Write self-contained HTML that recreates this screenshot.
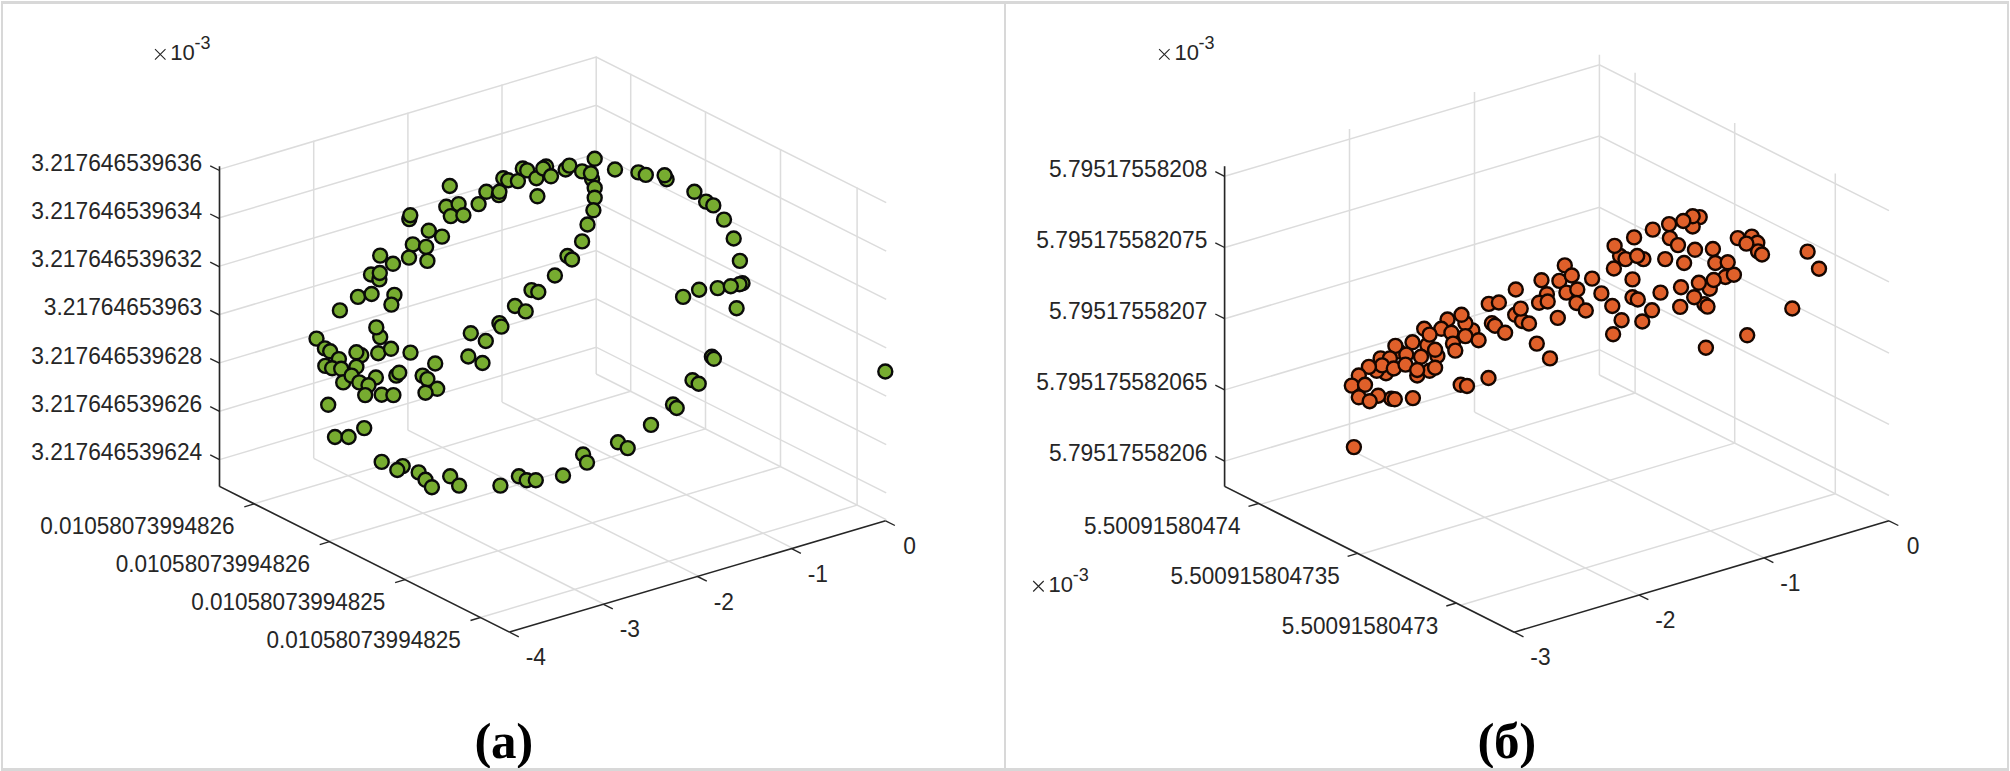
<!DOCTYPE html>
<html><head><meta charset="utf-8"><style>
html,body{margin:0;padding:0;background:#fff;}
body{width:2010px;height:771px;overflow:hidden;position:relative;}
svg{position:absolute;left:0;top:0;}
text{font-family:"Liberation Sans",sans-serif;fill:#262626;}
.cap{font-family:"Liberation Serif",serif;font-weight:bold;fill:#000;}
</style></head><body>
<svg width="2010" height="771" viewBox="0 0 2010 771">
<rect x="0" y="0" width="2010" height="771" fill="#fff"/>
<polyline points="219.5,169.4 596.2,57.0 886.2,202.7" fill="none" stroke="#dcdcdc" stroke-width="1.5"/>
<polyline points="219.5,217.8 596.2,105.4 886.2,251.1" fill="none" stroke="#dcdcdc" stroke-width="1.5"/>
<polyline points="219.5,266.1 596.2,153.7 886.2,299.4" fill="none" stroke="#dcdcdc" stroke-width="1.5"/>
<polyline points="219.5,314.5 596.2,202.1 886.2,347.8" fill="none" stroke="#dcdcdc" stroke-width="1.5"/>
<polyline points="219.5,362.9 596.2,250.5 886.2,396.2" fill="none" stroke="#dcdcdc" stroke-width="1.5"/>
<polyline points="219.5,411.2 596.2,298.9 886.2,444.6" fill="none" stroke="#dcdcdc" stroke-width="1.5"/>
<polyline points="219.5,459.6 596.2,347.2 886.2,492.9" fill="none" stroke="#dcdcdc" stroke-width="1.5"/>
<line x1="219.5" y1="486.4" x2="219.5" y2="168.9" stroke="#dcdcdc" stroke-width="1.5"/>
<line x1="219.5" y1="486.4" x2="509.5" y2="632.1" stroke="#dcdcdc" stroke-width="1.5"/>
<line x1="313.7" y1="458.3" x2="313.7" y2="140.8" stroke="#dcdcdc" stroke-width="1.5"/>
<line x1="313.7" y1="458.3" x2="603.7" y2="604.0" stroke="#dcdcdc" stroke-width="1.5"/>
<line x1="407.9" y1="430.2" x2="407.9" y2="112.7" stroke="#dcdcdc" stroke-width="1.5"/>
<line x1="407.9" y1="430.2" x2="697.9" y2="575.9" stroke="#dcdcdc" stroke-width="1.5"/>
<line x1="502.0" y1="402.1" x2="502.0" y2="84.6" stroke="#dcdcdc" stroke-width="1.5"/>
<line x1="502.0" y1="402.1" x2="792.0" y2="547.8" stroke="#dcdcdc" stroke-width="1.5"/>
<line x1="596.2" y1="374.0" x2="596.2" y2="56.5" stroke="#dcdcdc" stroke-width="1.5"/>
<line x1="596.2" y1="374.0" x2="886.2" y2="519.7" stroke="#dcdcdc" stroke-width="1.5"/>
<line x1="254.0" y1="503.7" x2="630.7" y2="391.3" stroke="#dcdcdc" stroke-width="1.5"/>
<line x1="630.7" y1="391.3" x2="630.7" y2="73.8" stroke="#dcdcdc" stroke-width="1.5"/>
<line x1="328.8" y1="541.3" x2="705.5" y2="428.9" stroke="#dcdcdc" stroke-width="1.5"/>
<line x1="705.5" y1="428.9" x2="705.5" y2="111.4" stroke="#dcdcdc" stroke-width="1.5"/>
<line x1="403.8" y1="579.0" x2="780.5" y2="466.6" stroke="#dcdcdc" stroke-width="1.5"/>
<line x1="780.5" y1="466.6" x2="780.5" y2="149.1" stroke="#dcdcdc" stroke-width="1.5"/>
<line x1="480.4" y1="617.5" x2="857.1" y2="505.1" stroke="#dcdcdc" stroke-width="1.5"/>
<line x1="857.1" y1="505.1" x2="857.1" y2="187.6" stroke="#dcdcdc" stroke-width="1.5"/>
<line x1="219.5" y1="166.2" x2="219.5" y2="486.4" stroke="#262626" stroke-width="1.6"/>
<line x1="219.5" y1="486.4" x2="509.5" y2="632.1" stroke="#262626" stroke-width="1.6"/>
<line x1="509.5" y1="632.1" x2="885.6" y2="520.8" stroke="#262626" stroke-width="1.6"/>
<line x1="219.5" y1="170.5" x2="210.2" y2="165.8" stroke="#262626" stroke-width="1.4"/>
<text transform="translate(202.3,170.8) scale(1,1.065)" text-anchor="end" font-size="22.8">3.217646539636</text>
<line x1="219.5" y1="218.7" x2="210.2" y2="214.0" stroke="#262626" stroke-width="1.4"/>
<text transform="translate(202.3,219.0) scale(1,1.065)" text-anchor="end" font-size="22.8">3.217646539634</text>
<line x1="219.5" y1="266.9" x2="210.2" y2="262.2" stroke="#262626" stroke-width="1.4"/>
<text transform="translate(202.3,267.2) scale(1,1.065)" text-anchor="end" font-size="22.8">3.217646539632</text>
<line x1="219.5" y1="315.0" x2="210.2" y2="310.4" stroke="#262626" stroke-width="1.4"/>
<text transform="translate(202.3,315.3) scale(1,1.065)" text-anchor="end" font-size="22.8">3.21764653963</text>
<line x1="219.5" y1="363.2" x2="210.2" y2="358.6" stroke="#262626" stroke-width="1.4"/>
<text transform="translate(202.3,363.5) scale(1,1.065)" text-anchor="end" font-size="22.8">3.217646539628</text>
<line x1="219.5" y1="411.4" x2="210.2" y2="406.7" stroke="#262626" stroke-width="1.4"/>
<text transform="translate(202.3,411.7) scale(1,1.065)" text-anchor="end" font-size="22.8">3.217646539626</text>
<line x1="219.5" y1="459.6" x2="210.2" y2="454.9" stroke="#262626" stroke-width="1.4"/>
<text transform="translate(202.3,459.9) scale(1,1.065)" text-anchor="end" font-size="22.8">3.217646539624</text>
<line x1="254.2" y1="503.9" x2="244.3" y2="506.8" stroke="#262626" stroke-width="1.4"/>
<text transform="translate(234.6,533.8) scale(1,1.065)" text-anchor="end" font-size="22.55">0.01058073994826</text>
<line x1="329.6" y1="541.7" x2="319.7" y2="544.7" stroke="#262626" stroke-width="1.4"/>
<text transform="translate(310.0,571.7) scale(1,1.065)" text-anchor="end" font-size="22.55">0.01058073994826</text>
<line x1="405.0" y1="579.6" x2="395.1" y2="582.6" stroke="#262626" stroke-width="1.4"/>
<text transform="translate(385.4,609.6) scale(1,1.065)" text-anchor="end" font-size="22.55">0.01058073994825</text>
<line x1="480.4" y1="617.5" x2="470.5" y2="620.5" stroke="#262626" stroke-width="1.4"/>
<text transform="translate(460.8,647.5) scale(1,1.065)" text-anchor="end" font-size="22.55">0.01058073994825</text>
<line x1="509.5" y1="632.1" x2="518.8" y2="636.8" stroke="#262626" stroke-width="1.4"/>
<text transform="translate(535.8,665.2) scale(1,1.065)" text-anchor="middle" font-size="22.8">-4</text>
<line x1="603.5" y1="604.3" x2="612.8" y2="608.9" stroke="#262626" stroke-width="1.4"/>
<text transform="translate(629.8,637.3) scale(1,1.065)" text-anchor="middle" font-size="22.8">-3</text>
<line x1="697.5" y1="576.5" x2="706.8" y2="581.1" stroke="#262626" stroke-width="1.4"/>
<text transform="translate(723.8,609.5) scale(1,1.065)" text-anchor="middle" font-size="22.8">-2</text>
<line x1="791.6" y1="548.6" x2="800.9" y2="553.3" stroke="#262626" stroke-width="1.4"/>
<text transform="translate(817.9,581.7) scale(1,1.065)" text-anchor="middle" font-size="22.8">-1</text>
<line x1="885.6" y1="520.8" x2="894.9" y2="525.5" stroke="#262626" stroke-width="1.4"/>
<text transform="translate(909.6,553.9) scale(1,1.065)" text-anchor="middle" font-size="22.8">0</text>
<polyline points="1224.6,176.3 1599.4,64.9 1889.0,210.7" fill="none" stroke="#dcdcdc" stroke-width="1.5"/>
<polyline points="1224.6,247.5 1599.4,136.1 1889.0,281.9" fill="none" stroke="#dcdcdc" stroke-width="1.5"/>
<polyline points="1224.6,318.7 1599.4,207.3 1889.0,353.1" fill="none" stroke="#dcdcdc" stroke-width="1.5"/>
<polyline points="1224.6,389.9 1599.4,278.5 1889.0,424.3" fill="none" stroke="#dcdcdc" stroke-width="1.5"/>
<polyline points="1224.6,461.1 1599.4,349.7 1889.0,495.5" fill="none" stroke="#dcdcdc" stroke-width="1.5"/>
<line x1="1224.6" y1="486.4" x2="1224.6" y2="166.2" stroke="#dcdcdc" stroke-width="1.5"/>
<line x1="1224.6" y1="486.4" x2="1514.2" y2="632.2" stroke="#dcdcdc" stroke-width="1.5"/>
<line x1="1349.5" y1="449.3" x2="1349.5" y2="129.1" stroke="#dcdcdc" stroke-width="1.5"/>
<line x1="1349.5" y1="449.3" x2="1639.1" y2="595.1" stroke="#dcdcdc" stroke-width="1.5"/>
<line x1="1474.5" y1="412.1" x2="1474.5" y2="91.9" stroke="#dcdcdc" stroke-width="1.5"/>
<line x1="1474.5" y1="412.1" x2="1764.1" y2="557.9" stroke="#dcdcdc" stroke-width="1.5"/>
<line x1="1599.4" y1="375.0" x2="1599.4" y2="54.8" stroke="#dcdcdc" stroke-width="1.5"/>
<line x1="1599.4" y1="375.0" x2="1889.0" y2="520.8" stroke="#dcdcdc" stroke-width="1.5"/>
<line x1="1260.3" y1="504.4" x2="1635.1" y2="393.0" stroke="#dcdcdc" stroke-width="1.5"/>
<line x1="1635.1" y1="393.0" x2="1635.1" y2="72.8" stroke="#dcdcdc" stroke-width="1.5"/>
<line x1="1359.9" y1="554.5" x2="1734.7" y2="443.1" stroke="#dcdcdc" stroke-width="1.5"/>
<line x1="1734.7" y1="443.1" x2="1734.7" y2="122.9" stroke="#dcdcdc" stroke-width="1.5"/>
<line x1="1460.5" y1="605.2" x2="1835.3" y2="493.8" stroke="#dcdcdc" stroke-width="1.5"/>
<line x1="1835.3" y1="493.8" x2="1835.3" y2="173.6" stroke="#dcdcdc" stroke-width="1.5"/>
<line x1="1224.6" y1="166.2" x2="1224.6" y2="486.4" stroke="#262626" stroke-width="1.6"/>
<line x1="1224.6" y1="486.4" x2="1514.2" y2="632.2" stroke="#262626" stroke-width="1.6"/>
<line x1="1514.2" y1="632.2" x2="1889.0" y2="520.8" stroke="#262626" stroke-width="1.6"/>
<line x1="1224.6" y1="176.3" x2="1215.3" y2="171.6" stroke="#262626" stroke-width="1.4"/>
<text transform="translate(1207.4,176.6) scale(1,1.065)" text-anchor="end" font-size="22.8">5.79517558208</text>
<line x1="1224.6" y1="247.5" x2="1215.3" y2="242.8" stroke="#262626" stroke-width="1.4"/>
<text transform="translate(1207.4,247.8) scale(1,1.065)" text-anchor="end" font-size="22.8">5.795175582075</text>
<line x1="1224.6" y1="318.7" x2="1215.3" y2="314.0" stroke="#262626" stroke-width="1.4"/>
<text transform="translate(1207.4,319.0) scale(1,1.065)" text-anchor="end" font-size="22.8">5.79517558207</text>
<line x1="1224.6" y1="389.9" x2="1215.3" y2="385.2" stroke="#262626" stroke-width="1.4"/>
<text transform="translate(1207.4,390.2) scale(1,1.065)" text-anchor="end" font-size="22.8">5.795175582065</text>
<line x1="1224.6" y1="461.1" x2="1215.3" y2="456.4" stroke="#262626" stroke-width="1.4"/>
<text transform="translate(1207.4,461.4) scale(1,1.065)" text-anchor="end" font-size="22.8">5.79517558206</text>
<line x1="1258.5" y1="503.5" x2="1248.5" y2="506.4" stroke="#262626" stroke-width="1.4"/>
<text transform="translate(1240.6,534.3) scale(1,1.065)" text-anchor="end" font-size="22.55">5.50091580474</text>
<line x1="1357.5" y1="553.3" x2="1347.6" y2="556.3" stroke="#262626" stroke-width="1.4"/>
<text transform="translate(1339.7,584.2) scale(1,1.065)" text-anchor="end" font-size="22.55">5.500915804735</text>
<line x1="1456.3" y1="603.0" x2="1446.3" y2="606.0" stroke="#262626" stroke-width="1.4"/>
<text transform="translate(1438.4,633.9) scale(1,1.065)" text-anchor="end" font-size="22.55">5.50091580473</text>
<line x1="1514.2" y1="632.2" x2="1523.5" y2="636.9" stroke="#262626" stroke-width="1.4"/>
<text transform="translate(1540.5,665.3) scale(1,1.065)" text-anchor="middle" font-size="22.8">-3</text>
<line x1="1639.1" y1="595.1" x2="1648.4" y2="599.7" stroke="#262626" stroke-width="1.4"/>
<text transform="translate(1665.4,628.1) scale(1,1.065)" text-anchor="middle" font-size="22.8">-2</text>
<line x1="1764.1" y1="557.9" x2="1773.4" y2="562.6" stroke="#262626" stroke-width="1.4"/>
<text transform="translate(1790.4,591.0) scale(1,1.065)" text-anchor="middle" font-size="22.8">-1</text>
<line x1="1889.0" y1="520.8" x2="1898.3" y2="525.5" stroke="#262626" stroke-width="1.4"/>
<text transform="translate(1913.0,553.9) scale(1,1.065)" text-anchor="middle" font-size="22.8">0</text>
<g><path d="M155.0,49.2 l10.5,10.5 M165.5,49.2 l-10.5,10.5" stroke="#262626" stroke-width="1.1" fill="none"/><text x="170.3" y="59.7" font-size="22">10</text><text x="194.5" y="48.7" font-size="18">-3</text></g>
<g><path d="M1159.1,49.2 l10.5,10.5 M1169.6,49.2 l-10.5,10.5" stroke="#262626" stroke-width="1.1" fill="none"/><text x="1174.4" y="59.7" font-size="22">10</text><text x="1198.6" y="48.7" font-size="18">-3</text></g>
<g><path d="M1033.2,581.0 l10.5,10.5 M1043.7,581.0 l-10.5,10.5" stroke="#262626" stroke-width="1.1" fill="none"/><text x="1048.5" y="591.5" font-size="22">10</text><text x="1072.7" y="580.5" font-size="18">-3</text></g>
<circle cx="449.8" cy="186.0" r="7.0" fill="#77ac30" stroke="#0a0a0a" stroke-width="2.4"/><circle cx="446.3" cy="206.8" r="7.0" fill="#77ac30" stroke="#0a0a0a" stroke-width="2.4"/><circle cx="458.6" cy="204.1" r="7.0" fill="#77ac30" stroke="#0a0a0a" stroke-width="2.4"/><circle cx="450.8" cy="216.1" r="7.0" fill="#77ac30" stroke="#0a0a0a" stroke-width="2.4"/><circle cx="463.4" cy="215.2" r="7.0" fill="#77ac30" stroke="#0a0a0a" stroke-width="2.4"/><circle cx="478.6" cy="204.1" r="7.0" fill="#77ac30" stroke="#0a0a0a" stroke-width="2.4"/><circle cx="486.4" cy="191.8" r="7.0" fill="#77ac30" stroke="#0a0a0a" stroke-width="2.4"/><circle cx="498.8" cy="195.1" r="7.0" fill="#77ac30" stroke="#0a0a0a" stroke-width="2.4"/><circle cx="499.4" cy="191.8" r="7.0" fill="#77ac30" stroke="#0a0a0a" stroke-width="2.4"/><circle cx="503.3" cy="178.2" r="7.0" fill="#77ac30" stroke="#0a0a0a" stroke-width="2.4"/><circle cx="508.2" cy="180.2" r="7.0" fill="#77ac30" stroke="#0a0a0a" stroke-width="2.4"/><circle cx="517.9" cy="181.1" r="7.0" fill="#77ac30" stroke="#0a0a0a" stroke-width="2.4"/><circle cx="522.8" cy="168.5" r="7.0" fill="#77ac30" stroke="#0a0a0a" stroke-width="2.4"/><circle cx="527.2" cy="170.4" r="7.0" fill="#77ac30" stroke="#0a0a0a" stroke-width="2.4"/><circle cx="536.4" cy="178.2" r="7.0" fill="#77ac30" stroke="#0a0a0a" stroke-width="2.4"/><circle cx="546.1" cy="166.5" r="7.0" fill="#77ac30" stroke="#0a0a0a" stroke-width="2.4"/><circle cx="543.2" cy="168.5" r="7.0" fill="#77ac30" stroke="#0a0a0a" stroke-width="2.4"/><circle cx="551.0" cy="176.3" r="7.0" fill="#77ac30" stroke="#0a0a0a" stroke-width="2.4"/><circle cx="537.4" cy="196.3" r="7.0" fill="#77ac30" stroke="#0a0a0a" stroke-width="2.4"/><circle cx="565.6" cy="169.5" r="7.0" fill="#77ac30" stroke="#0a0a0a" stroke-width="2.4"/><circle cx="569.4" cy="165.6" r="7.0" fill="#77ac30" stroke="#0a0a0a" stroke-width="2.4"/><circle cx="582.1" cy="171.4" r="7.0" fill="#77ac30" stroke="#0a0a0a" stroke-width="2.4"/><circle cx="592.1" cy="179.2" r="7.0" fill="#77ac30" stroke="#0a0a0a" stroke-width="2.4"/><circle cx="594.7" cy="158.8" r="7.0" fill="#77ac30" stroke="#0a0a0a" stroke-width="2.4"/><circle cx="594.7" cy="187.9" r="7.0" fill="#77ac30" stroke="#0a0a0a" stroke-width="2.4"/><circle cx="594.7" cy="197.7" r="7.0" fill="#77ac30" stroke="#0a0a0a" stroke-width="2.4"/><circle cx="593.4" cy="210.3" r="7.0" fill="#77ac30" stroke="#0a0a0a" stroke-width="2.4"/><circle cx="587.5" cy="224.5" r="7.0" fill="#77ac30" stroke="#0a0a0a" stroke-width="2.4"/><circle cx="582.1" cy="241.4" r="7.0" fill="#77ac30" stroke="#0a0a0a" stroke-width="2.4"/><circle cx="567.5" cy="256.0" r="7.0" fill="#77ac30" stroke="#0a0a0a" stroke-width="2.4"/><circle cx="572.0" cy="259.5" r="7.0" fill="#77ac30" stroke="#0a0a0a" stroke-width="2.4"/><circle cx="554.9" cy="275.5" r="7.0" fill="#77ac30" stroke="#0a0a0a" stroke-width="2.4"/><circle cx="531.5" cy="290.1" r="7.0" fill="#77ac30" stroke="#0a0a0a" stroke-width="2.4"/><circle cx="538.3" cy="292.0" r="7.0" fill="#77ac30" stroke="#0a0a0a" stroke-width="2.4"/><circle cx="409.3" cy="219.1" r="7.0" fill="#77ac30" stroke="#0a0a0a" stroke-width="2.4"/><circle cx="410.3" cy="215.2" r="7.0" fill="#77ac30" stroke="#0a0a0a" stroke-width="2.4"/><circle cx="428.8" cy="230.7" r="7.0" fill="#77ac30" stroke="#0a0a0a" stroke-width="2.4"/><circle cx="442.0" cy="236.6" r="7.0" fill="#77ac30" stroke="#0a0a0a" stroke-width="2.4"/><circle cx="412.8" cy="244.4" r="7.0" fill="#77ac30" stroke="#0a0a0a" stroke-width="2.4"/><circle cx="426.1" cy="246.9" r="7.0" fill="#77ac30" stroke="#0a0a0a" stroke-width="2.4"/><circle cx="409.0" cy="257.6" r="7.0" fill="#77ac30" stroke="#0a0a0a" stroke-width="2.4"/><circle cx="427.4" cy="260.9" r="7.0" fill="#77ac30" stroke="#0a0a0a" stroke-width="2.4"/><circle cx="380.2" cy="255.6" r="7.0" fill="#77ac30" stroke="#0a0a0a" stroke-width="2.4"/><circle cx="393.0" cy="263.8" r="7.0" fill="#77ac30" stroke="#0a0a0a" stroke-width="2.4"/><circle cx="371.0" cy="274.5" r="7.0" fill="#77ac30" stroke="#0a0a0a" stroke-width="2.4"/><circle cx="379.4" cy="279.4" r="7.0" fill="#77ac30" stroke="#0a0a0a" stroke-width="2.4"/><circle cx="379.8" cy="273.0" r="7.0" fill="#77ac30" stroke="#0a0a0a" stroke-width="2.4"/><circle cx="358.0" cy="296.9" r="7.0" fill="#77ac30" stroke="#0a0a0a" stroke-width="2.4"/><circle cx="371.6" cy="294.0" r="7.0" fill="#77ac30" stroke="#0a0a0a" stroke-width="2.4"/><circle cx="394.4" cy="294.9" r="7.0" fill="#77ac30" stroke="#0a0a0a" stroke-width="2.4"/><circle cx="590.9" cy="173.3" r="7.0" fill="#77ac30" stroke="#0a0a0a" stroke-width="2.4"/><circle cx="615.0" cy="169.5" r="7.0" fill="#77ac30" stroke="#0a0a0a" stroke-width="2.4"/><circle cx="638.4" cy="172.4" r="7.0" fill="#77ac30" stroke="#0a0a0a" stroke-width="2.4"/><circle cx="645.8" cy="174.9" r="7.0" fill="#77ac30" stroke="#0a0a0a" stroke-width="2.4"/><circle cx="666.6" cy="179.2" r="7.0" fill="#77ac30" stroke="#0a0a0a" stroke-width="2.4"/><circle cx="664.6" cy="175.3" r="7.0" fill="#77ac30" stroke="#0a0a0a" stroke-width="2.4"/><circle cx="694.4" cy="191.8" r="7.0" fill="#77ac30" stroke="#0a0a0a" stroke-width="2.4"/><circle cx="706.1" cy="201.6" r="7.0" fill="#77ac30" stroke="#0a0a0a" stroke-width="2.4"/><circle cx="713.3" cy="205.4" r="7.0" fill="#77ac30" stroke="#0a0a0a" stroke-width="2.4"/><circle cx="724.0" cy="219.6" r="7.0" fill="#77ac30" stroke="#0a0a0a" stroke-width="2.4"/><circle cx="733.7" cy="238.5" r="7.0" fill="#77ac30" stroke="#0a0a0a" stroke-width="2.4"/><circle cx="739.9" cy="260.9" r="7.0" fill="#77ac30" stroke="#0a0a0a" stroke-width="2.4"/><circle cx="699.1" cy="289.7" r="7.0" fill="#77ac30" stroke="#0a0a0a" stroke-width="2.4"/><circle cx="717.7" cy="288.1" r="7.0" fill="#77ac30" stroke="#0a0a0a" stroke-width="2.4"/><circle cx="742.5" cy="283.3" r="7.0" fill="#77ac30" stroke="#0a0a0a" stroke-width="2.4"/><circle cx="739.5" cy="284.2" r="7.0" fill="#77ac30" stroke="#0a0a0a" stroke-width="2.4"/><circle cx="730.8" cy="286.2" r="7.0" fill="#77ac30" stroke="#0a0a0a" stroke-width="2.4"/><circle cx="683.1" cy="296.9" r="7.0" fill="#77ac30" stroke="#0a0a0a" stroke-width="2.4"/><circle cx="391.4" cy="304.6" r="7.0" fill="#77ac30" stroke="#0a0a0a" stroke-width="2.4"/><circle cx="339.9" cy="310.4" r="7.0" fill="#77ac30" stroke="#0a0a0a" stroke-width="2.4"/><circle cx="380.2" cy="337.1" r="7.0" fill="#77ac30" stroke="#0a0a0a" stroke-width="2.4"/><circle cx="376.3" cy="327.4" r="7.0" fill="#77ac30" stroke="#0a0a0a" stroke-width="2.4"/><circle cx="316.5" cy="338.6" r="7.0" fill="#77ac30" stroke="#0a0a0a" stroke-width="2.4"/><circle cx="324.9" cy="348.4" r="7.0" fill="#77ac30" stroke="#0a0a0a" stroke-width="2.4"/><circle cx="330.2" cy="351.3" r="7.0" fill="#77ac30" stroke="#0a0a0a" stroke-width="2.4"/><circle cx="338.9" cy="359.1" r="7.0" fill="#77ac30" stroke="#0a0a0a" stroke-width="2.4"/><circle cx="361.3" cy="355.2" r="7.0" fill="#77ac30" stroke="#0a0a0a" stroke-width="2.4"/><circle cx="356.4" cy="352.3" r="7.0" fill="#77ac30" stroke="#0a0a0a" stroke-width="2.4"/><circle cx="378.2" cy="353.2" r="7.0" fill="#77ac30" stroke="#0a0a0a" stroke-width="2.4"/><circle cx="391.0" cy="348.8" r="7.0" fill="#77ac30" stroke="#0a0a0a" stroke-width="2.4"/><circle cx="410.5" cy="352.6" r="7.0" fill="#77ac30" stroke="#0a0a0a" stroke-width="2.4"/><circle cx="435.2" cy="363.5" r="7.0" fill="#77ac30" stroke="#0a0a0a" stroke-width="2.4"/><circle cx="470.8" cy="333.2" r="7.0" fill="#77ac30" stroke="#0a0a0a" stroke-width="2.4"/><circle cx="485.8" cy="341.0" r="7.0" fill="#77ac30" stroke="#0a0a0a" stroke-width="2.4"/><circle cx="499.4" cy="323.1" r="7.0" fill="#77ac30" stroke="#0a0a0a" stroke-width="2.4"/><circle cx="501.4" cy="326.6" r="7.0" fill="#77ac30" stroke="#0a0a0a" stroke-width="2.4"/><circle cx="515.0" cy="306.0" r="7.0" fill="#77ac30" stroke="#0a0a0a" stroke-width="2.4"/><circle cx="525.7" cy="311.4" r="7.0" fill="#77ac30" stroke="#0a0a0a" stroke-width="2.4"/><circle cx="468.3" cy="356.5" r="7.0" fill="#77ac30" stroke="#0a0a0a" stroke-width="2.4"/><circle cx="482.5" cy="363.0" r="7.0" fill="#77ac30" stroke="#0a0a0a" stroke-width="2.4"/><circle cx="325.3" cy="365.9" r="7.0" fill="#77ac30" stroke="#0a0a0a" stroke-width="2.4"/><circle cx="332.1" cy="368.2" r="7.0" fill="#77ac30" stroke="#0a0a0a" stroke-width="2.4"/><circle cx="341.2" cy="368.8" r="7.0" fill="#77ac30" stroke="#0a0a0a" stroke-width="2.4"/><circle cx="356.4" cy="366.8" r="7.0" fill="#77ac30" stroke="#0a0a0a" stroke-width="2.4"/><circle cx="375.9" cy="377.5" r="7.0" fill="#77ac30" stroke="#0a0a0a" stroke-width="2.4"/><circle cx="396.3" cy="375.6" r="7.0" fill="#77ac30" stroke="#0a0a0a" stroke-width="2.4"/><circle cx="399.2" cy="372.7" r="7.0" fill="#77ac30" stroke="#0a0a0a" stroke-width="2.4"/><circle cx="422.6" cy="375.6" r="7.0" fill="#77ac30" stroke="#0a0a0a" stroke-width="2.4"/><circle cx="427.4" cy="379.1" r="7.0" fill="#77ac30" stroke="#0a0a0a" stroke-width="2.4"/><circle cx="437.2" cy="388.8" r="7.0" fill="#77ac30" stroke="#0a0a0a" stroke-width="2.4"/><circle cx="425.5" cy="392.7" r="7.0" fill="#77ac30" stroke="#0a0a0a" stroke-width="2.4"/><circle cx="343.2" cy="382.4" r="7.0" fill="#77ac30" stroke="#0a0a0a" stroke-width="2.4"/><circle cx="351.6" cy="375.6" r="7.0" fill="#77ac30" stroke="#0a0a0a" stroke-width="2.4"/><circle cx="359.3" cy="382.4" r="7.0" fill="#77ac30" stroke="#0a0a0a" stroke-width="2.4"/><circle cx="368.5" cy="385.3" r="7.0" fill="#77ac30" stroke="#0a0a0a" stroke-width="2.4"/><circle cx="365.2" cy="395.1" r="7.0" fill="#77ac30" stroke="#0a0a0a" stroke-width="2.4"/><circle cx="381.7" cy="394.7" r="7.0" fill="#77ac30" stroke="#0a0a0a" stroke-width="2.4"/><circle cx="393.4" cy="395.1" r="7.0" fill="#77ac30" stroke="#0a0a0a" stroke-width="2.4"/><circle cx="328.2" cy="404.8" r="7.0" fill="#77ac30" stroke="#0a0a0a" stroke-width="2.4"/><circle cx="364.2" cy="428.1" r="7.0" fill="#77ac30" stroke="#0a0a0a" stroke-width="2.4"/><circle cx="335.0" cy="437.0" r="7.0" fill="#77ac30" stroke="#0a0a0a" stroke-width="2.4"/><circle cx="348.6" cy="437.0" r="7.0" fill="#77ac30" stroke="#0a0a0a" stroke-width="2.4"/><circle cx="736.6" cy="308.2" r="7.0" fill="#77ac30" stroke="#0a0a0a" stroke-width="2.4"/><circle cx="711.9" cy="356.8" r="7.0" fill="#77ac30" stroke="#0a0a0a" stroke-width="2.4"/><circle cx="713.9" cy="358.8" r="7.0" fill="#77ac30" stroke="#0a0a0a" stroke-width="2.4"/><circle cx="692.5" cy="380.2" r="7.0" fill="#77ac30" stroke="#0a0a0a" stroke-width="2.4"/><circle cx="698.7" cy="383.7" r="7.0" fill="#77ac30" stroke="#0a0a0a" stroke-width="2.4"/><circle cx="673.0" cy="404.5" r="7.0" fill="#77ac30" stroke="#0a0a0a" stroke-width="2.4"/><circle cx="676.7" cy="408.0" r="7.0" fill="#77ac30" stroke="#0a0a0a" stroke-width="2.4"/><circle cx="651.0" cy="424.9" r="7.0" fill="#77ac30" stroke="#0a0a0a" stroke-width="2.4"/><circle cx="885.3" cy="371.5" r="7.0" fill="#77ac30" stroke="#0a0a0a" stroke-width="2.4"/><circle cx="381.7" cy="461.9" r="7.0" fill="#77ac30" stroke="#0a0a0a" stroke-width="2.4"/><circle cx="402.7" cy="466.1" r="7.0" fill="#77ac30" stroke="#0a0a0a" stroke-width="2.4"/><circle cx="397.3" cy="470.0" r="7.0" fill="#77ac30" stroke="#0a0a0a" stroke-width="2.4"/><circle cx="418.7" cy="472.4" r="7.0" fill="#77ac30" stroke="#0a0a0a" stroke-width="2.4"/><circle cx="425.5" cy="479.8" r="7.0" fill="#77ac30" stroke="#0a0a0a" stroke-width="2.4"/><circle cx="431.9" cy="487.2" r="7.0" fill="#77ac30" stroke="#0a0a0a" stroke-width="2.4"/><circle cx="450.2" cy="476.3" r="7.0" fill="#77ac30" stroke="#0a0a0a" stroke-width="2.4"/><circle cx="459.1" cy="485.6" r="7.0" fill="#77ac30" stroke="#0a0a0a" stroke-width="2.4"/><circle cx="500.4" cy="485.6" r="7.0" fill="#77ac30" stroke="#0a0a0a" stroke-width="2.4"/><circle cx="518.9" cy="476.3" r="7.0" fill="#77ac30" stroke="#0a0a0a" stroke-width="2.4"/><circle cx="526.7" cy="480.2" r="7.0" fill="#77ac30" stroke="#0a0a0a" stroke-width="2.4"/><circle cx="535.8" cy="480.2" r="7.0" fill="#77ac30" stroke="#0a0a0a" stroke-width="2.4"/><circle cx="563.0" cy="475.5" r="7.0" fill="#77ac30" stroke="#0a0a0a" stroke-width="2.4"/><circle cx="583.1" cy="454.5" r="7.0" fill="#77ac30" stroke="#0a0a0a" stroke-width="2.4"/><circle cx="587.0" cy="462.6" r="7.0" fill="#77ac30" stroke="#0a0a0a" stroke-width="2.4"/><circle cx="618.0" cy="442.3" r="7.0" fill="#77ac30" stroke="#0a0a0a" stroke-width="2.4"/><circle cx="627.7" cy="448.1" r="7.0" fill="#77ac30" stroke="#0a0a0a" stroke-width="2.4"/><circle cx="1491.9" cy="323.3" r="7.0" fill="#e0602a" stroke="#140600" stroke-width="2.4"/><circle cx="1495.0" cy="325.7" r="7.0" fill="#e0602a" stroke="#140600" stroke-width="2.4"/><circle cx="1488.8" cy="303.9" r="7.0" fill="#e0602a" stroke="#140600" stroke-width="2.4"/><circle cx="1515.2" cy="314.8" r="7.0" fill="#e0602a" stroke="#140600" stroke-width="2.4"/><circle cx="1522.0" cy="321.0" r="7.0" fill="#e0602a" stroke="#140600" stroke-width="2.4"/><circle cx="1472.4" cy="330.4" r="7.0" fill="#e0602a" stroke="#140600" stroke-width="2.4"/><circle cx="1437.4" cy="356.0" r="7.0" fill="#e0602a" stroke="#140600" stroke-width="2.4"/><circle cx="1427.3" cy="345.1" r="7.0" fill="#e0602a" stroke="#140600" stroke-width="2.4"/><circle cx="1398.5" cy="351.4" r="7.0" fill="#e0602a" stroke="#140600" stroke-width="2.4"/><circle cx="1380.6" cy="358.4" r="7.0" fill="#e0602a" stroke="#140600" stroke-width="2.4"/><circle cx="1417.2" cy="375.5" r="7.0" fill="#e0602a" stroke="#140600" stroke-width="2.4"/><circle cx="1429.6" cy="370.8" r="7.0" fill="#e0602a" stroke="#140600" stroke-width="2.4"/><circle cx="1386.0" cy="373.2" r="7.0" fill="#e0602a" stroke="#140600" stroke-width="2.4"/><circle cx="1376.7" cy="370.8" r="7.0" fill="#e0602a" stroke="#140600" stroke-width="2.4"/><circle cx="1460.7" cy="384.8" r="7.0" fill="#e0602a" stroke="#140600" stroke-width="2.4"/><circle cx="1391.3" cy="398.7" r="7.0" fill="#e0602a" stroke="#140600" stroke-width="2.4"/><circle cx="1447.5" cy="319.5" r="7.0" fill="#e0602a" stroke="#140600" stroke-width="2.4"/><circle cx="1465.4" cy="323.3" r="7.0" fill="#e0602a" stroke="#140600" stroke-width="2.4"/><circle cx="1461.5" cy="314.8" r="7.0" fill="#e0602a" stroke="#140600" stroke-width="2.4"/><circle cx="1424.2" cy="328.8" r="7.0" fill="#e0602a" stroke="#140600" stroke-width="2.4"/><circle cx="1441.3" cy="328.8" r="7.0" fill="#e0602a" stroke="#140600" stroke-width="2.4"/><circle cx="1451.4" cy="332.7" r="7.0" fill="#e0602a" stroke="#140600" stroke-width="2.4"/><circle cx="1429.6" cy="334.6" r="7.0" fill="#e0602a" stroke="#140600" stroke-width="2.4"/><circle cx="1465.4" cy="336.1" r="7.0" fill="#e0602a" stroke="#140600" stroke-width="2.4"/><circle cx="1478.6" cy="340.2" r="7.0" fill="#e0602a" stroke="#140600" stroke-width="2.4"/><circle cx="1412.5" cy="342.3" r="7.0" fill="#e0602a" stroke="#140600" stroke-width="2.4"/><circle cx="1395.4" cy="345.9" r="7.0" fill="#e0602a" stroke="#140600" stroke-width="2.4"/><circle cx="1453.0" cy="343.6" r="7.0" fill="#e0602a" stroke="#140600" stroke-width="2.4"/><circle cx="1455.3" cy="350.6" r="7.0" fill="#e0602a" stroke="#140600" stroke-width="2.4"/><circle cx="1435.1" cy="349.8" r="7.0" fill="#e0602a" stroke="#140600" stroke-width="2.4"/><circle cx="1406.3" cy="354.5" r="7.0" fill="#e0602a" stroke="#140600" stroke-width="2.4"/><circle cx="1421.0" cy="356.8" r="7.0" fill="#e0602a" stroke="#140600" stroke-width="2.4"/><circle cx="1389.9" cy="358.4" r="7.0" fill="#e0602a" stroke="#140600" stroke-width="2.4"/><circle cx="1382.1" cy="365.4" r="7.0" fill="#e0602a" stroke="#140600" stroke-width="2.4"/><circle cx="1368.9" cy="366.9" r="7.0" fill="#e0602a" stroke="#140600" stroke-width="2.4"/><circle cx="1393.8" cy="368.5" r="7.0" fill="#e0602a" stroke="#140600" stroke-width="2.4"/><circle cx="1405.5" cy="364.6" r="7.0" fill="#e0602a" stroke="#140600" stroke-width="2.4"/><circle cx="1417.2" cy="370.0" r="7.0" fill="#e0602a" stroke="#140600" stroke-width="2.4"/><circle cx="1435.1" cy="367.7" r="7.0" fill="#e0602a" stroke="#140600" stroke-width="2.4"/><circle cx="1358.8" cy="375.5" r="7.0" fill="#e0602a" stroke="#140600" stroke-width="2.4"/><circle cx="1351.8" cy="385.6" r="7.0" fill="#e0602a" stroke="#140600" stroke-width="2.4"/><circle cx="1365.0" cy="384.8" r="7.0" fill="#e0602a" stroke="#140600" stroke-width="2.4"/><circle cx="1378.2" cy="395.7" r="7.0" fill="#e0602a" stroke="#140600" stroke-width="2.4"/><circle cx="1358.8" cy="397.3" r="7.0" fill="#e0602a" stroke="#140600" stroke-width="2.4"/><circle cx="1369.7" cy="401.2" r="7.0" fill="#e0602a" stroke="#140600" stroke-width="2.4"/><circle cx="1394.8" cy="399.3" r="7.0" fill="#e0602a" stroke="#140600" stroke-width="2.4"/><circle cx="1412.9" cy="398.1" r="7.0" fill="#e0602a" stroke="#140600" stroke-width="2.4"/><circle cx="1467.0" cy="386.0" r="7.0" fill="#e0602a" stroke="#140600" stroke-width="2.4"/><circle cx="1488.5" cy="378.0" r="7.0" fill="#e0602a" stroke="#140600" stroke-width="2.4"/><circle cx="1353.9" cy="447.1" r="7.0" fill="#e0602a" stroke="#140600" stroke-width="2.4"/><circle cx="1505.1" cy="332.7" r="7.0" fill="#e0602a" stroke="#140600" stroke-width="2.4"/><circle cx="1498.9" cy="302.5" r="7.0" fill="#e0602a" stroke="#140600" stroke-width="2.4"/><circle cx="1520.7" cy="308.6" r="7.0" fill="#e0602a" stroke="#140600" stroke-width="2.4"/><circle cx="1529.0" cy="323.5" r="7.0" fill="#e0602a" stroke="#140600" stroke-width="2.4"/><circle cx="1559.4" cy="280.9" r="7.0" fill="#e0602a" stroke="#140600" stroke-width="2.4"/><circle cx="1566.4" cy="292.6" r="7.0" fill="#e0602a" stroke="#140600" stroke-width="2.4"/><circle cx="1546.9" cy="294.2" r="7.0" fill="#e0602a" stroke="#140600" stroke-width="2.4"/><circle cx="1539.1" cy="302.7" r="7.0" fill="#e0602a" stroke="#140600" stroke-width="2.4"/><circle cx="1620.1" cy="256.0" r="7.0" fill="#e0602a" stroke="#140600" stroke-width="2.4"/><circle cx="1643.4" cy="259.1" r="7.0" fill="#e0602a" stroke="#140600" stroke-width="2.4"/><circle cx="1632.5" cy="297.3" r="7.0" fill="#e0602a" stroke="#140600" stroke-width="2.4"/><circle cx="1725.4" cy="277.0" r="7.0" fill="#e0602a" stroke="#140600" stroke-width="2.4"/><circle cx="1733.9" cy="274.7" r="7.0" fill="#e0602a" stroke="#140600" stroke-width="2.4"/><circle cx="1709.8" cy="288.7" r="7.0" fill="#e0602a" stroke="#140600" stroke-width="2.4"/><circle cx="1704.4" cy="304.3" r="7.0" fill="#e0602a" stroke="#140600" stroke-width="2.4"/><circle cx="1751.8" cy="236.6" r="7.0" fill="#e0602a" stroke="#140600" stroke-width="2.4"/><circle cx="1757.3" cy="242.8" r="7.0" fill="#e0602a" stroke="#140600" stroke-width="2.4"/><circle cx="1758.1" cy="251.4" r="7.0" fill="#e0602a" stroke="#140600" stroke-width="2.4"/><circle cx="1564.8" cy="265.4" r="7.0" fill="#e0602a" stroke="#140600" stroke-width="2.4"/><circle cx="1571.8" cy="275.5" r="7.0" fill="#e0602a" stroke="#140600" stroke-width="2.4"/><circle cx="1541.5" cy="280.2" r="7.0" fill="#e0602a" stroke="#140600" stroke-width="2.4"/><circle cx="1515.8" cy="289.5" r="7.0" fill="#e0602a" stroke="#140600" stroke-width="2.4"/><circle cx="1592.1" cy="278.6" r="7.0" fill="#e0602a" stroke="#140600" stroke-width="2.4"/><circle cx="1577.3" cy="289.5" r="7.0" fill="#e0602a" stroke="#140600" stroke-width="2.4"/><circle cx="1601.4" cy="293.4" r="7.0" fill="#e0602a" stroke="#140600" stroke-width="2.4"/><circle cx="1547.7" cy="301.5" r="7.0" fill="#e0602a" stroke="#140600" stroke-width="2.4"/><circle cx="1576.5" cy="303.0" r="7.0" fill="#e0602a" stroke="#140600" stroke-width="2.4"/><circle cx="1585.8" cy="310.5" r="7.0" fill="#e0602a" stroke="#140600" stroke-width="2.4"/><circle cx="1612.3" cy="306.0" r="7.0" fill="#e0602a" stroke="#140600" stroke-width="2.4"/><circle cx="1557.8" cy="317.9" r="7.0" fill="#e0602a" stroke="#140600" stroke-width="2.4"/><circle cx="1614.6" cy="245.9" r="7.0" fill="#e0602a" stroke="#140600" stroke-width="2.4"/><circle cx="1625.5" cy="259.1" r="7.0" fill="#e0602a" stroke="#140600" stroke-width="2.4"/><circle cx="1613.9" cy="268.5" r="7.0" fill="#e0602a" stroke="#140600" stroke-width="2.4"/><circle cx="1637.2" cy="256.0" r="7.0" fill="#e0602a" stroke="#140600" stroke-width="2.4"/><circle cx="1634.1" cy="237.4" r="7.0" fill="#e0602a" stroke="#140600" stroke-width="2.4"/><circle cx="1632.5" cy="279.4" r="7.0" fill="#e0602a" stroke="#140600" stroke-width="2.4"/><circle cx="1652.8" cy="229.6" r="7.0" fill="#e0602a" stroke="#140600" stroke-width="2.4"/><circle cx="1699.7" cy="217.1" r="7.0" fill="#e0602a" stroke="#140600" stroke-width="2.4"/><circle cx="1692.7" cy="226.5" r="7.0" fill="#e0602a" stroke="#140600" stroke-width="2.4"/><circle cx="1692.7" cy="216.3" r="7.0" fill="#e0602a" stroke="#140600" stroke-width="2.4"/><circle cx="1669.1" cy="224.1" r="7.0" fill="#e0602a" stroke="#140600" stroke-width="2.4"/><circle cx="1669.9" cy="238.1" r="7.0" fill="#e0602a" stroke="#140600" stroke-width="2.4"/><circle cx="1678.0" cy="245.1" r="7.0" fill="#e0602a" stroke="#140600" stroke-width="2.4"/><circle cx="1665.2" cy="259.1" r="7.0" fill="#e0602a" stroke="#140600" stroke-width="2.4"/><circle cx="1660.5" cy="292.6" r="7.0" fill="#e0602a" stroke="#140600" stroke-width="2.4"/><circle cx="1637.8" cy="299.5" r="7.0" fill="#e0602a" stroke="#140600" stroke-width="2.4"/><circle cx="1652.0" cy="310.3" r="7.0" fill="#e0602a" stroke="#140600" stroke-width="2.4"/><circle cx="1621.6" cy="320.2" r="7.0" fill="#e0602a" stroke="#140600" stroke-width="2.4"/><circle cx="1642.3" cy="321.5" r="7.0" fill="#e0602a" stroke="#140600" stroke-width="2.4"/><circle cx="1683.3" cy="221.0" r="7.0" fill="#e0602a" stroke="#140600" stroke-width="2.4"/><circle cx="1695.0" cy="249.8" r="7.0" fill="#e0602a" stroke="#140600" stroke-width="2.4"/><circle cx="1712.9" cy="249.0" r="7.0" fill="#e0602a" stroke="#140600" stroke-width="2.4"/><circle cx="1684.1" cy="263.0" r="7.0" fill="#e0602a" stroke="#140600" stroke-width="2.4"/><circle cx="1715.3" cy="263.0" r="7.0" fill="#e0602a" stroke="#140600" stroke-width="2.4"/><circle cx="1727.7" cy="262.3" r="7.0" fill="#e0602a" stroke="#140600" stroke-width="2.4"/><circle cx="1713.7" cy="280.0" r="7.0" fill="#e0602a" stroke="#140600" stroke-width="2.4"/><circle cx="1698.9" cy="282.8" r="7.0" fill="#e0602a" stroke="#140600" stroke-width="2.4"/><circle cx="1681.0" cy="287.2" r="7.0" fill="#e0602a" stroke="#140600" stroke-width="2.4"/><circle cx="1694.2" cy="297.2" r="7.0" fill="#e0602a" stroke="#140600" stroke-width="2.4"/><circle cx="1707.5" cy="306.6" r="7.0" fill="#e0602a" stroke="#140600" stroke-width="2.4"/><circle cx="1680.2" cy="306.9" r="7.0" fill="#e0602a" stroke="#140600" stroke-width="2.4"/><circle cx="1737.8" cy="238.1" r="7.0" fill="#e0602a" stroke="#140600" stroke-width="2.4"/><circle cx="1746.4" cy="243.6" r="7.0" fill="#e0602a" stroke="#140600" stroke-width="2.4"/><circle cx="1762.0" cy="254.5" r="7.0" fill="#e0602a" stroke="#140600" stroke-width="2.4"/><circle cx="1807.6" cy="251.6" r="7.0" fill="#e0602a" stroke="#140600" stroke-width="2.4"/><circle cx="1819.0" cy="268.7" r="7.0" fill="#e0602a" stroke="#140600" stroke-width="2.4"/><circle cx="1792.3" cy="308.5" r="7.0" fill="#e0602a" stroke="#140600" stroke-width="2.4"/><circle cx="1536.8" cy="343.6" r="7.0" fill="#e0602a" stroke="#140600" stroke-width="2.4"/><circle cx="1550.0" cy="358.4" r="7.0" fill="#e0602a" stroke="#140600" stroke-width="2.4"/><circle cx="1613.1" cy="334.2" r="7.0" fill="#e0602a" stroke="#140600" stroke-width="2.4"/><circle cx="1747.2" cy="335.3" r="7.0" fill="#e0602a" stroke="#140600" stroke-width="2.4"/><circle cx="1705.9" cy="347.7" r="7.0" fill="#e0602a" stroke="#140600" stroke-width="2.4"/>
<text class="cap" x="503.6" y="758" text-anchor="middle" font-size="51" letter-spacing="-0.4">(a)</text>
<text class="cap" x="1506.6" y="758" text-anchor="middle" font-size="51" letter-spacing="-0.4">(б)</text>
<rect x="1" y="1" width="1007" height="3" fill="#d8d8d8"/>
<rect x="1" y="1" width="2007" height="3" fill="#d8d8d8"/>
<rect x="1" y="1" width="2" height="770" fill="#d8d8d8"/>
<rect x="2007" y="1" width="2" height="770" fill="#d8d8d8"/>
<rect x="1" y="768" width="2008" height="3" fill="#d8d8d8"/>
<rect x="1004" y="1" width="2" height="770" fill="#d8d8d8"/>
</svg>
</body></html>
